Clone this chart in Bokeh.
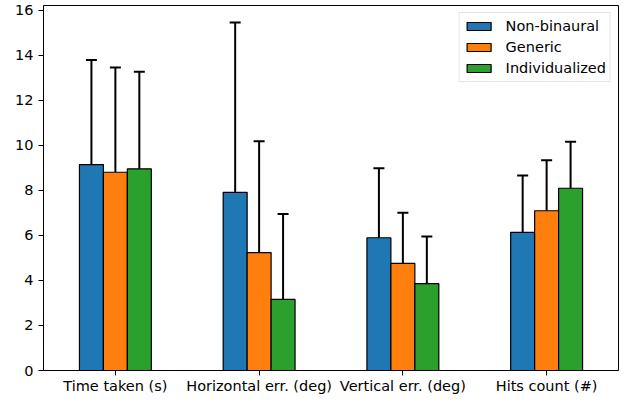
import numpy as np
from bokeh.plotting import figure
from bokeh.models import Range1d, FixedTicker, Legend, LegendItem, ColumnDataSource, Whisker, TeeHead
from bokeh.embed import file_html
from bokeh.resources import INLINE

categories = ["Time taken (s)", "Horizontal err. (deg)", "Vertical err. (deg)", "Hits count (#)"]
series_names = ["Non-binaural", "Generic", "Individualized"]
colors = ["#1f77b4", "#ff7f0e", "#2ca02c"]
means = [
    [9.15, 7.92, 5.90, 6.14],
    [8.81, 5.24, 4.76, 7.10],
    [8.96, 3.16, 3.86, 8.10],
]
errs = [
    [4.65, 7.54, 3.09, 2.52],
    [4.65, 4.95, 2.25, 2.24],
    [4.32, 3.80, 2.10, 2.07],
]
y_ticks = [0, 2, 4, 6, 8, 10, 12, 14, 16]

FONT = "DejaVu Sans"
FS = "14.5px"

p = figure(width=620, height=396, output_backend="svg", toolbar_location=None, title=None,
           x_range=Range1d(-0.5, 3.5), y_range=Range1d(0, 16.22),
           min_border_left=43, min_border_right=2, min_border_top=5, min_border_bottom=20)
p.xgrid.visible = False
p.ygrid.visible = False
p.outline_line_color = "black"
p.outline_line_width = 1
p.background_fill_color = "white"
p.border_fill_color = "white"

bar_w = 1.0 / 6
offsets = [-bar_w, 0.0, bar_w]
base_x = np.arange(len(categories))

items = []
for k in range(3):
    xs = base_x + offsets[k]
    m = np.array(means[k])
    e = np.array(errs[k])
    src = ColumnDataSource(dict(x=xs, top=m, upper=m + e))
    r = p.vbar(x="x", top="top", bottom=0, width=bar_w, source=src,
               fill_color=colors[k], line_color="black", line_width=1.2)
    w = Whisker(base="x", lower="top", upper="upper", source=src, dimension="height",
                line_color="black", line_width=2,
                upper_head=TeeHead(size=11, line_color="black", line_width=2),
                lower_head=None)
    p.add_layout(w)
    items.append(LegendItem(label=series_names[k], renderers=[r]))

legend = Legend(items=items, location="top_right")
legend.label_text_font = FONT
legend.label_text_font_size = FS
legend.label_text_color = "black"
legend.glyph_width = 30
legend.glyph_height = 10
legend.label_height = 18
legend.label_standoff = 12
legend.spacing = 3
legend.padding = 4
legend.margin = 7
legend.border_line_color = "#cccccc"
legend.border_line_width = 1
legend.background_fill_alpha = 0.8
p.add_layout(legend)

for ax in (p.xaxis[0], p.yaxis[0]):
    ax.major_label_text_font = FONT
    ax.major_label_text_font_size = FS
    ax.major_label_text_color = "black"
    ax.axis_line_color = "black"
    ax.major_tick_line_color = "black"
    ax.major_tick_out = 5
    ax.major_tick_in = 0
    ax.minor_tick_line_color = None
    ax.axis_label_standoff = 0
p.yaxis.major_label_standoff = 5
p.xaxis.major_label_standoff = 2

p.xaxis.ticker = FixedTicker(ticks=list(base_x))
p.xaxis.major_label_overrides = {int(i): c for i, c in enumerate(categories)}
p.yaxis.ticker = FixedTicker(ticks=y_ticks)

open("out.html", "w").write(file_html(p, INLINE))
